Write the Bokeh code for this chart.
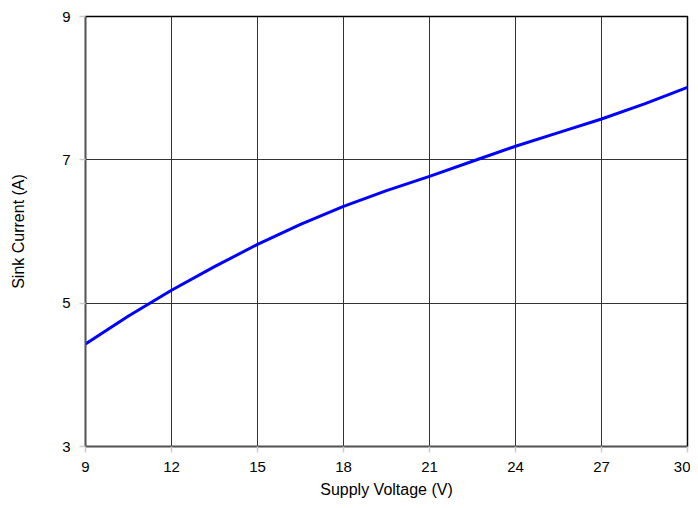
from bokeh.plotting import figure
from bokeh.models import Range1d, FixedTicker
from bokeh.embed import file_html
from bokeh.resources import INLINE

voltage = [9, 10.5, 12, 13.5, 15, 16.5, 18, 19.5, 21, 22.5, 24, 25.5, 27, 28.5, 30]
current = [4.43, 4.82, 5.18, 5.51, 5.82, 6.10, 6.35, 6.57, 6.77, 6.98, 7.19, 7.38, 7.57, 7.78, 8.01]
x_ticks = [9, 12, 15, 18, 21, 24, 27, 30]
y_ticks = [3, 5, 7, 9]

p = figure(width=690, height=500, output_backend="svg", toolbar_location=None,
           x_range=Range1d(9, 30), y_range=Range1d(3, 9),
           min_border_left=85, min_border_right=3, min_border_top=16, min_border_bottom=53)

p.line(voltage, current, line_color="#0000ff", line_width=3, line_join="round")

p.xaxis.ticker = FixedTicker(ticks=x_ticks)
p.yaxis.ticker = FixedTicker(ticks=y_ticks)
p.xaxis.axis_label = "Supply Voltage (V)"
p.yaxis.axis_label = "Sink Current (A)"

for ax in (p.xaxis[0], p.yaxis[0]):
    ax.axis_label_text_font = "Liberation Sans"
    ax.axis_label_text_font_style = "normal"
    ax.axis_label_text_font_size = "16px"
    ax.axis_label_text_color = "#000000"
    ax.major_label_text_font = "Liberation Sans"
    ax.major_label_text_font_size = "15px"
    ax.major_label_text_color = "#000000"
    ax.axis_line_color = "#555555"
    ax.axis_line_width = 1.5
    ax.major_tick_line_color = "#cccccc"
    ax.major_tick_line_width = 1.5
    ax.major_tick_out = 6
    ax.major_tick_in = 0
    ax.minor_tick_line_color = None

p.xaxis.axis_label_standoff = 6
p.yaxis.axis_label_standoff = 32
p.xaxis.major_label_standoff = 9
p.yaxis.major_label_standoff = 9

p.xgrid.ticker = FixedTicker(ticks=x_ticks)
p.ygrid.ticker = FixedTicker(ticks=y_ticks)
p.grid.grid_line_color = "#333333"
p.grid.grid_line_width = 1
p.grid.grid_line_alpha = 1

p.outline_line_color = "#000000"
p.outline_line_width = 1.5
p.background_fill_color = "#ffffff"
p.border_fill_color = "#ffffff"

open("out.html", "w").write(file_html(p, INLINE))
